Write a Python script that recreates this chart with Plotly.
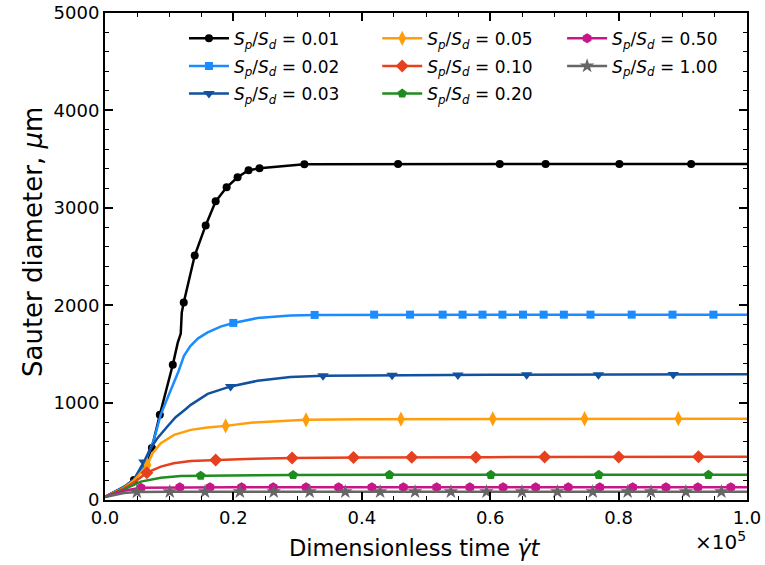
import plotly.graph_objects as go

# Dimensionless time values are plotted in units of 1e5
SCALE = 1e5

labels = ["0.01", "0.02", "0.03", "0.05", "0.10", "0.20", "0.50", "1.00"]

# ---- S_p/S_d = 0.01 ----
t_001 = [0, 2950, 4503, 6056, 7298, 8540, 10559, 11335, 11801, 11957, 12267, 13975,
         15683, 17236, 18944, 20652, 22360, 24068, 31056, 45650, 61490, 68630, 80120,
         91300, 100000]
d_001 = [31, 134, 206, 329, 535, 875, 1389, 1615, 1708, 1924, 2027, 2510,
         2819, 3066, 3210, 3313, 3385, 3405, 3447, 3450, 3450, 3450, 3450,
         3450, 3450]
mt_001 = [4503, 7298, 8540, 10559, 12267, 13975, 15683, 17236, 18944, 20652, 22360,
          24068, 31056, 45650, 61490, 68630, 80120, 91300]
md_001 = [206, 535, 875, 1389, 2027, 2510, 2819, 3066, 3210, 3313, 3385,
          3405, 3447, 3450, 3450, 3450, 3450, 3450]

# ---- S_p/S_d = 0.02 ----
t_002 = [0, 2950, 4500, 6056, 7609, 8700, 10250, 11500, 12300, 13300, 14500, 16000,
         18000, 19985, 23758, 28882, 32655, 45000, 60000, 100000]
d_002 = [31, 134, 210, 360, 617, 880, 1130, 1330, 1480, 1580, 1660, 1720,
         1780, 1818, 1868, 1893, 1900, 1903, 1903, 1903]
mt_002 = [19985, 32655, 41925, 47516, 52593, 55699, 58804, 61910, 65109, 68323,
          71475, 75621, 82034, 88401, 94767]
md_002 = [1818, 1900, 1903, 1903, 1903, 1903, 1903, 1903, 1903, 1903,
          1903, 1903, 1903, 1903, 1903]

# ---- S_p/S_d = 0.03 ----
t_003 = [0, 2950, 4500, 6056, 7000, 8230, 9783, 11000, 12500, 13354, 15994, 19565,
         23758, 28882, 34006, 45000, 60000, 100000]
d_003 = [31, 130, 210, 391, 520, 640, 760, 850, 930, 977, 1090, 1166,
         1224, 1262, 1276, 1280, 1285, 1290]
mt_003 = [6056, 19565, 33960, 44720, 54970, 65680, 76860, 88510]
md_003 = [391, 1166, 1276, 1280, 1283, 1285, 1287, 1289]

# ---- S_p/S_d = 0.05 ----
t_005 = [0, 2950, 4500, 6625, 7400, 8700, 10766, 13354, 15943, 18789, 23000, 31320,
         40000, 60000, 100000]
d_005 = [31, 125, 200, 360, 480, 583, 669, 720, 744, 761, 795, 823,
         830, 833, 835]
mt_005 = [6625, 18789, 31320, 46100, 60400, 74700, 89300]
md_005 = [360, 761, 823, 830, 833, 834, 835]

# ---- S_p/S_d = 0.10 ----
t_010 = [0, 2950, 4500, 6522, 8696, 10700, 13354, 17236, 22000, 29146, 40000,
         60000, 100000]
d_010 = [31, 120, 180, 281, 343, 377, 401, 411, 422, 430, 437, 440, 443]
mt_010 = [6522, 17236, 29146, 38711, 47780, 57764, 68478, 80016, 92438]
md_010 = [281, 411, 430, 436, 438, 440, 441, 442, 443]

# ---- S_p/S_d = 0.20 ----
t_020 = [0, 2950, 5590, 8696, 11801, 14907, 20000, 29301, 45000, 100000]
d_020 = [31, 110, 189, 229, 247, 250, 253, 257, 258, 258]
mt_020 = [14907, 29301, 44301, 60093, 76910, 93991]
md_020 = [250, 257, 258, 258, 258, 258]

# ---- S_p/S_d = 0.50 ----
t_050 = [0, 2950, 5590, 11646, 20000, 100000]
d_050 = [31, 95, 125, 130, 131, 131]
mt_050 = [5590, 11646, 16351, 21273, 26196, 31320, 36382, 41568, 46475, 51661,
          56832, 62003, 67081, 72158, 77065, 82189, 87376, 92345, 97469]
md_050 = [125, 130, 131, 131, 131, 131, 131, 131, 131, 131,
          131, 131, 131, 131, 131, 131, 131, 131, 131]

# ---- S_p/S_d = 1.00 ----
t_100 = [0, 2950, 4969, 10093, 100000]
d_100 = [31, 72, 82, 85, 85]
mt_100 = [4969, 10093, 15575, 21009, 26289, 31879, 37422, 42857, 48292, 53882,
          59425, 64953, 70450, 75978, 81413, 85047, 90481, 96009]
md_100 = [82, 85, 85, 85, 85, 85, 85, 85, 85, 85,
          85, 85, 85, 85, 85, 85, 85, 85]

curves = [(t_001, d_001), (t_002, d_002), (t_003, d_003), (t_005, d_005),
          (t_010, d_010), (t_020, d_020), (t_050, d_050), (t_100, d_100)]
markers = [(mt_001, md_001), (mt_002, md_002), (mt_003, md_003), (mt_005, md_005),
           (mt_010, md_010), (mt_020, md_020), (mt_050, md_050), (mt_100, md_100)]

colors = ["#000000", "#1a8cff", "#11519e", "#ff9e0a", "#e6401f", "#1f8c1f",
          "#c8168a", "#666666"]
symbols = ["circle", "square", "triangle-down", "diamond-tall", "diamond",
           "pentagon", "hexagon", "star"]
sizes = [8, 8, 10, 11, 10, 10, 10, 11]
legend_of = ["legend", "legend", "legend", "legend2", "legend2", "legend2",
             "legend3", "legend3"]

y_ticks = [0, 1000, 2000, 3000, 4000, 5000]
x_ticks = [0.0, 0.2, 0.4, 0.6, 0.8, 1.0]

FONT = "DejaVu Sans"

fig = go.Figure()
for i, lab in enumerate(labels):
    name = f"<i>S</i><sub><i>p</i></sub>/<i>S</i><sub><i>d</i></sub> = {lab}"
    t, d = curves[i]
    mt, md = markers[i]
    group = f"g{i}"
    fig.add_trace(go.Scatter(
        x=[v / SCALE for v in t], y=d, mode="lines",
        line=dict(color=colors[i], width=2.5),
        legendgroup=group, showlegend=False, hoverinfo="skip"))
    fig.add_trace(go.Scatter(
        x=[v / SCALE for v in mt], y=md, mode="markers",
        marker=dict(symbol=symbols[i], size=sizes[i], color=colors[i],
                    line=dict(width=0)),
        legendgroup=group, showlegend=False))
    # legend entry showing line + marker
    fig.add_trace(go.Scatter(
        x=[None], y=[None], mode="lines+markers", name=name,
        line=dict(color=colors[i], width=2.5),
        marker=dict(symbol=symbols[i], size=sizes[i], color=colors[i],
                    line=dict(width=0)),
        legendgroup=group, legend=legend_of[i]))

axis_common = dict(
    showline=True, linecolor="black", linewidth=2, mirror="allticks",
    ticks="inside", ticklen=8, tickwidth=1.5, tickcolor="black",
    showgrid=False, zeroline=False, automargin=False,
    tickfont=dict(family=FONT, size=18, color="black"),
)

fig.update_xaxes(
    range=[0, 1], tickvals=x_ticks, ticktext=[f"{v:.1f}" for v in x_ticks],
    minor=dict(dtick=0.05, ticks="inside", ticklen=4, tickwidth=1, tickcolor="black"),
    **axis_common)
fig.update_yaxes(
    range=[0, 5000], tickvals=y_ticks, ticktext=[str(v) for v in y_ticks],
    minor=dict(dtick=200, ticks="inside", ticklen=4, tickwidth=1, tickcolor="black"),
    **axis_common)

legend_common = dict(
    font=dict(family=FONT, size=17, color="black"),
    bgcolor="rgba(0,0,0,0)", borderwidth=0,
    traceorder="grouped", tracegroupgap=2.5,
    xanchor="left", yanchor="top", y=0.984, itemwidth=40,
)
fig.update_layout(
    width=765, height=565,
    margin=dict(l=105, r=18, t=13, b=65),
    paper_bgcolor="white", plot_bgcolor="white",
    font=dict(family=FONT, color="black"),
    legend=dict(x=0.123, **legend_common),
    legend2=dict(x=0.424, **legend_common),
    legend3=dict(x=0.712, **legend_common),
    annotations=[
        # axis titles
        dict(text="Dimensionless time <i>γ̇t</i>", xref="paper", yref="paper",
             x=0.483, y=-0.0986, xanchor="center", yanchor="middle", showarrow=False,
             font=dict(family=FONT, size=22.5, color="black")),
        dict(text="Sauter diameter, <i>μ</i>m", xref="paper", yref="paper",
             x=-0.112, y=0.530, xanchor="center", yanchor="middle", showarrow=False,
             textangle=-90, font=dict(family=FONT, size=26, color="black")),
        # offset (multiplier) of the time axis
        dict(text="×10<sup>5</sup>", xref="paper", yref="paper", x=1.002, y=-0.053,
             xanchor="right", yanchor="top", showarrow=False,
             font=dict(family=FONT, size=20, color="black")),
    ],
)

fig.write_html("out.html")
